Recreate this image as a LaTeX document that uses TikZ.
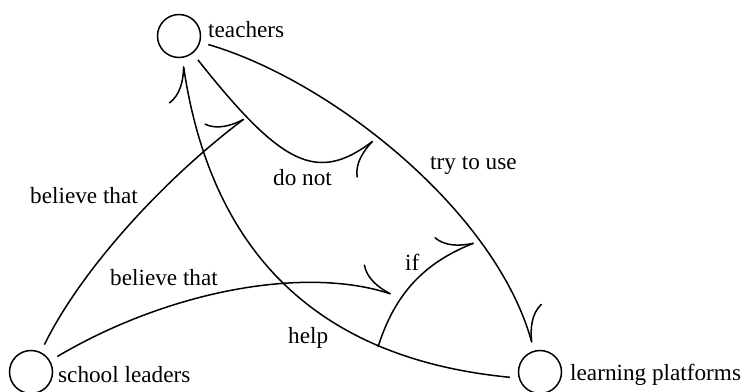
\documentclass[tikz,border=0pt]{standalone}
\usepackage{fontspec}
\setmainfont{Liberation Serif}
\usetikzlibrary{arrows.meta}
\begin{document}
\begin{tikzpicture}[x=1bp,y=-1bp,
  ent/.style={circle,draw,minimum size=43bp,inner sep=0pt,outer sep=9bp,line width=1.5bp},
  lbl/.style={inner sep=0pt,anchor=base west,font=\fontsize{23.3}{28}\selectfont},
  rel/.style={line width=1.5bp,-{Computer Modern Rightarrow[harpoon,length=35bp,width=40bp]}},
  relsw/.style={line width=1.5bp,-{Computer Modern Rightarrow[harpoon,swap,length=35bp,width=40bp]}}]
\useasboundingbox (0,0) rectangle (742,391);
% entities
\node[ent] (T) at (179,36) {};
\node[ent] (S) at (31,372) {};
\node[ent] (L) at (540,372) {};
\node[lbl] (tT) at (208,37) {teachers};
\node[lbl] (tS) at (58,382) {school leaders};
\node[lbl] (tL) at (570,380) {learning platforms};
% relation labels
\node[lbl] (lTry) at (430,169) {try to use};
\node[lbl] (lDo) at (273,185) {do not};
\node[lbl] (lB1) at (30,203) {believe that};
\node[lbl] (lB2) at (110,285) {believe that};
\node[lbl] (lIf) at (405,270) {if};
\node[lbl] (lHelp) at (288,343) {help};
% free ends
\coordinate (dnTip) at (373,141);
\coordinate (btTip) at (244,119);
\coordinate (bbTip) at (391,294);
\coordinate (ifStart) at (378,347);
\coordinate (ifTip) at (474,243);
% connectors
\draw[rel] (T) .. controls (330,80) and (495,210) .. (L);
\draw[rel] (L.190) .. controls (309,358) and (210,244) .. (T);
\draw[relsw] (T) .. controls (282,166) and (317,183) .. (dnTip);
\draw[rel] (S) .. controls (81,270) and (163,180) .. (btTip);
\draw[rel] (S) .. controls (170,290) and (305,266) .. (bbTip);
\draw[rel] (ifStart) .. controls (394.5,294.8) and (422.9,263.4) .. (ifTip);
\end{tikzpicture}
\end{document}
